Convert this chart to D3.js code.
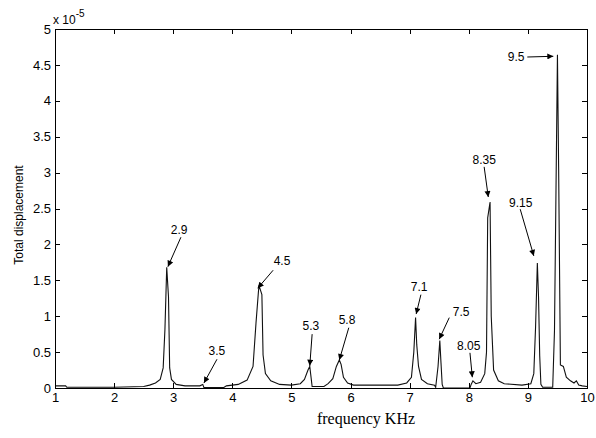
<!DOCTYPE html>
<meta charset="utf-8">
<style>

body { margin: 0; background: #fff; }

text {
  font-family: "Liberation Sans", Arial, sans-serif;
  fill: #000;
}

.axis text { font-size: 13px; }

.axis path, .axis line {
  stroke: #000;
  shape-rendering: crispEdges;
}

.curve {
  fill: none;
  stroke: #111;
  stroke-width: 1.1px;
}

.notes text { font-size: 12px; }
.notes line { stroke: #000; stroke-width: 1px; }

</style>
<body>
<svg width="596" height="438"></svg>
<script src="https://d3js.org/d3.v7.min.js"></script>

<script>

// frequency (kHz) and total displacement (x 1e-5)
var freq = [1.0, 1.18, 1.2, 2.0, 2.5, 2.6, 2.7, 2.78, 2.83, 2.86, 2.89, 2.92, 2.94, 2.97, 3.05, 3.2,
            3.45, 3.5, 3.52, 3.85, 3.9, 4.1, 4.25, 4.35, 4.4, 4.45, 4.5, 4.52, 4.56, 4.65, 4.8, 5.0,
            5.15, 5.22, 5.28, 5.31, 5.35, 5.55, 5.62, 5.7, 5.76, 5.81, 5.84, 5.88, 5.95, 6.05, 6.8,
            6.95, 7.03, 7.07, 7.1, 7.12, 7.15, 7.2, 7.3, 7.42, 7.44, 7.48, 7.51, 7.53, 7.55, 7.57,
            8.02, 8.04, 8.07, 8.12, 8.2, 8.27, 8.3, 8.32, 8.36, 8.38, 8.42, 8.5, 8.6, 8.9, 9.05,
            9.1, 9.13, 9.16, 9.18, 9.2, 9.22, 9.25, 9.42, 9.45, 9.5, 9.52, 9.55, 9.6, 9.65, 9.72,
            9.78, 9.82, 9.86, 9.92, 10.0];
var disp = [0.03, 0.03, 0.01, 0.01, 0.02, 0.04, 0.07, 0.12, 0.28, 0.82, 1.68, 1.27, 0.28, 0.12, 0.05, 0.03,
            0.03, 0.05, 0.005, 0.005, 0.03, 0.05, 0.11, 0.3, 0.9, 1.43, 1.3, 0.46, 0.2, 0.1, 0.05, 0.04,
            0.06, 0.12, 0.25, 0.3, 0.02, 0.02, 0.06, 0.13, 0.3, 0.39, 0.33, 0.15, 0.07, 0.04, 0.04,
            0.07, 0.15, 0.5, 0.98, 0.6, 0.3, 0.12, 0.06, 0.04, 0.01, 0.3, 0.66, 0.35, 0.05, 0.0,
            0.0, 0.05, 0.1, 0.06, 0.08, 0.2, 0.5, 2.37, 2.59, 1.0, 0.25, 0.1, 0.06, 0.04, 0.06,
            0.2, 0.85, 1.74, 1.27, 0.45, 0.05, 0.01, 0.01, 0.8, 4.64, 3.08, 0.32, 0.3, 0.15, 0.1,
            0.07, 0.1, 0.04, 0.03, 0.02];

var xTicks = [1, 2, 3, 4, 5, 6, 7, 8, 9, 10];
var yTicks = [0, 0.5, 1, 1.5, 2, 2.5, 3, 3.5, 4, 4.5, 5];

// peak labels: text centre, arrow tail, arrow tip (data units)
var noteLabels = ["2.9", "3.5", "4.5", "5.3", "5.8", "7.1", "7.5", "8.05", "8.35", "9.15", "9.5"];
var noteText = [[3.10, 2.21], [3.74, 0.52], [4.84, 1.77], [5.33, 0.86], [5.94, 0.95], [7.16, 1.41],
                [7.87, 1.06], [8.00, 0.59], [8.26, 3.18], [8.88, 2.58], [8.80, 4.61]];
var noteTail = [[3.13, 2.10], [3.74, 0.40], [4.69, 1.64], [5.35, 0.75], [5.97, 0.84], [7.19, 1.30],
                [7.67, 0.98], [8.02, 0.49], [8.26, 3.08], [8.87, 2.49], [8.99, 4.61]];
var noteTip  = [[2.91, 1.69], [3.52, 0.07], [4.43, 1.39], [5.31, 0.31], [5.81, 0.39], [7.11, 1.03],
                [7.50, 0.68], [8.06, 0.15], [8.33, 2.66], [9.10, 1.84], [9.43, 4.62]];

var svg = d3.select("svg"),
    padL = 55, padR = 587, padT = 29, padB = 388;

var x = d3.scaleLinear().domain([1, 10]).range([padL, padR]);
var y = d3.scaleLinear().domain([0, 5]).range([padB, padT]);

// arrow head
svg.append("defs").append("marker")
    .attr("id", "head")
    .attr("viewBox", "0 0 10 10")
    .attr("refX", 10).attr("refY", 5)
    .attr("markerUnits", "userSpaceOnUse")
    .attr("markerWidth", 7).attr("markerHeight", 6)
    .attr("orient", "auto")
  .append("path")
    .attr("d", "M0,0L10,5L0,10z")
    .attr("fill", "#000");

// curve
var line = d3.line()
    .x(function(d, i) { return x(freq[i]); })
    .y(function(d) { return y(d); });

svg.append("path")
    .attr("class", "curve")
    .attr("d", line(disp));

// axes, MATLAB style box with inward ticks
var fmt = function(d) { return String(d); };

svg.append("g").attr("class", "axis")
    .attr("transform", "translate(0," + padB + ")")
    .call(d3.axisBottom(x).tickValues(xTicks).tickFormat(fmt).tickSizeInner(-5).tickSizeOuter(0).tickPadding(5));

svg.append("g").attr("class", "axis")
    .attr("transform", "translate(0," + padT + ")")
    .call(d3.axisTop(x).tickValues(xTicks).tickFormat("").tickSizeInner(-5).tickSizeOuter(0));

svg.append("g").attr("class", "axis")
    .attr("transform", "translate(" + padL + ",0)")
    .call(d3.axisLeft(y).tickValues(yTicks).tickFormat(fmt).tickSizeInner(-5).tickSizeOuter(0).tickPadding(4));

svg.append("g").attr("class", "axis")
    .attr("transform", "translate(" + padR + ",0)")
    .call(d3.axisRight(y).tickValues(yTicks).tickFormat("").tickSizeInner(-5).tickSizeOuter(0));

// exponent
var ex = svg.append("text")
    .attr("x", 53)
    .attr("y", 24)
    .style("font-size", "12px")
    .text("x 10");
ex.append("tspan")
    .attr("dy", -7)
    .style("font-size", "10px")
    .text("-5");

// axis labels
svg.append("text")
    .attr("transform", "translate(23,215) rotate(-90)")
    .attr("text-anchor", "middle")
    .style("font-size", "12px")
    .text("Total displacement");

svg.append("text")
    .attr("x", 366)
    .attr("y", 424)
    .attr("text-anchor", "middle")
    .style("font-family", "'Liberation Serif', 'Times New Roman', serif")
    .style("font-size", "16px")
    .text("frequency KHz");

// peak notes
var notes = svg.append("g").attr("class", "notes");

noteLabels.forEach(function(lab, i) {
  notes.append("text")
      .attr("x", x(noteText[i][0]))
      .attr("y", y(noteText[i][1]))
      .attr("dy", "0.35em")
      .attr("text-anchor", "middle")
      .text(lab);
  notes.append("line")
      .attr("x1", x(noteTail[i][0])).attr("y1", y(noteTail[i][1]))
      .attr("x2", x(noteTip[i][0])).attr("y2", y(noteTip[i][1]))
      .attr("marker-end", "url(#head)");
});

</script>
</html>
